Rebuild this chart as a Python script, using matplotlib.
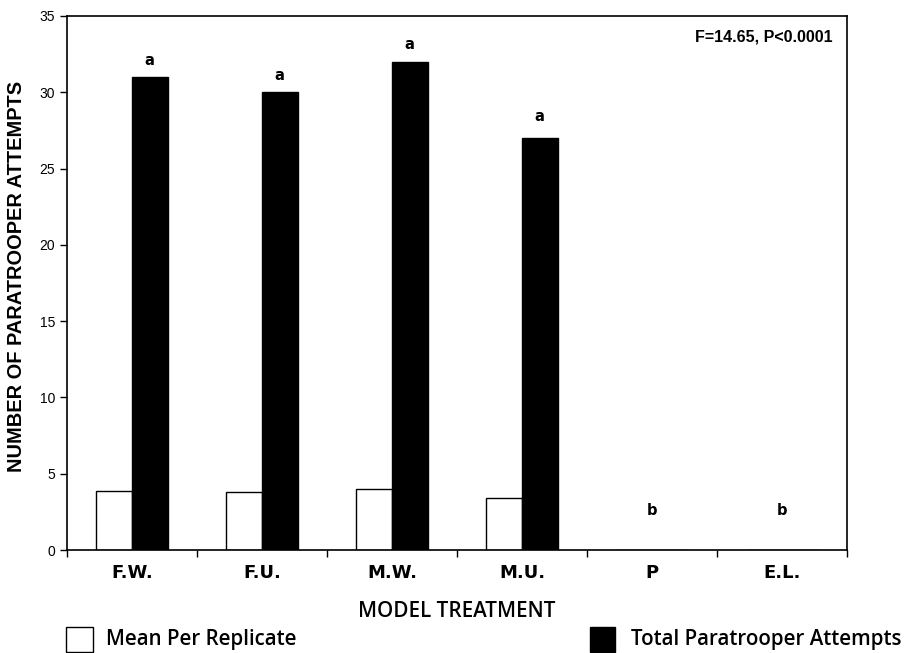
import numpy as np
import matplotlib.pyplot as plt
from matplotlib.patches import Rectangle

# 数据
categories = ['F.W.', 'F.U.', 'M.W.', 'M.U.', 'P', 'E.L.']
mean_per_replicate = [3.85, 3.8, 4.0, 3.4, 0, 0]
total_attempts = [31, 30, 32, 27, 0, 0]
letters = ['a', 'a', 'a', 'a', 'b', 'b']
letter_y = [32.1, 31.1, 33.1, 28.4, 2.6, 2.6]

fig = plt.figure(figsize=(9.13, 6.53), dpi=100)
ax = fig.add_axes([0.0734, 0.1577, 0.8543, 0.8178])

x = np.arange(len(categories))
w = 0.28
ax.bar(x - w / 2, mean_per_replicate, width=w, color='white', edgecolor='black', linewidth=1.0)
ax.bar(x + w / 2, total_attempts, width=w, color='black', edgecolor='black', linewidth=1.0)

for xi, lab, yy in zip(x, letters, letter_y):
    ax.text(xi + (w / 2 - 0.01 if lab == 'a' else 0), yy, lab, ha='center', va='center',
            fontsize=10.5, fontweight='bold', family='DejaVu Sans')

ax.text(0.981, 0.96, 'F=14.65, P<0.0001', transform=ax.transAxes, ha='right', va='center',
        fontsize=11.5, fontweight='bold', family='Liberation Sans')

ax.set_xlim(-0.5, len(categories) - 0.5)
ax.set_ylim(0, 35)
ax.set_yticks(range(0, 36, 5))
ax.set_xticks(x)
ax.set_xticklabels(categories, fontsize=13, fontweight='bold', family='DejaVu Sans')
ax.set_xticks(np.arange(-0.5, len(categories)), minor=True)
ax.tick_params(axis='x', which='major', length=0, pad=10)
ax.tick_params(axis='x', which='minor', length=5, direction='out', width=1)
ax.tick_params(axis='y', length=5, direction='out', width=1, labelsize=10)
for lab in ax.get_yticklabels():
    lab.set_family('Liberation Sans')
for sp in ax.spines.values():
    sp.set_linewidth(1.2)

ax.set_ylabel('NUMBER OF PARATROOPER ATTEMPTS', fontsize=14.4, fontweight='bold',
              family='Liberation Sans')
ax.yaxis.set_label_coords(-0.0526, 0.513)
ax.set_xlabel('MODEL TREATMENT', fontsize=14.9, fontweight='semibold', family='Open Sans', labelpad=14)

# 图例（底部）
fig.patches.append(Rectangle((66 / 913, 1 - 652 / 653), 27 / 913, 25 / 653,
                             transform=fig.transFigure, facecolor='white', edgecolor='black', lw=1))
fig.text(106 / 913, 1 - 640 / 653, 'Mean Per Replicate', fontsize=14.8, fontweight='semibold',
         family='Open Sans', va='center', ha='left')
fig.patches.append(Rectangle((590 / 913, 1 - 652 / 653), 25 / 913, 25 / 653,
                             transform=fig.transFigure, facecolor='black', edgecolor='black', lw=1))
fig.text(631 / 913, 1 - 640 / 653, 'Total Paratrooper Attempts', fontsize=14.8, fontweight='semibold',
         family='Open Sans', va='center', ha='left')

fig.savefig('out.png', dpi=100)
